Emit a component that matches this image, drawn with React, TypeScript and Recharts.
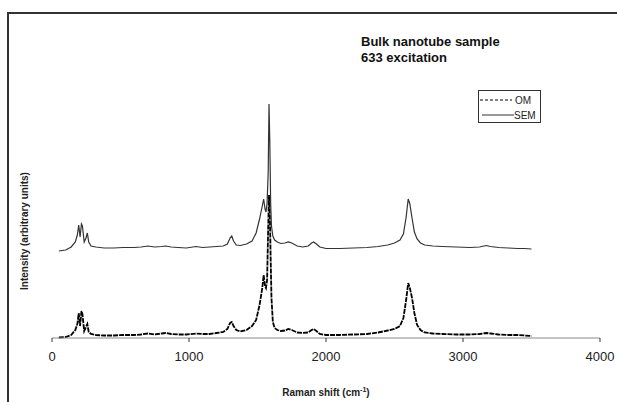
import { Line, LineChart, XAxis, YAxis } from 'recharts'

// Raman shift (cm-1) sampled along both spectra
const ramanShift = [
  50, 100, 140, 170, 185, 195, 205, 215, 222, 235, 248, 258, 268, 285, 320, 380, 450, 520, 600, 650,
  700, 750, 800, 830, 870, 920, 980, 1050, 1100, 1150, 1200, 1250, 1280, 1300, 1312, 1325, 1345, 1375,
  1420, 1460, 1490, 1515, 1535, 1545, 1555, 1562, 1570, 1578, 1584, 1590, 1596, 1602, 1612, 1625, 1645,
  1670, 1700, 1725, 1750, 1790, 1830, 1870, 1895, 1910, 1930, 1955, 2000, 2100, 2200, 2300, 2380, 2450,
  2500, 2540, 2565, 2585, 2600, 2612, 2628, 2645, 2665, 2690, 2720, 2780, 2850, 2950, 3050, 3120, 3170,
  3200, 3260, 3330, 3400, 3450, 3500
]

// SEM spectrum (offset upwards)
const semIntensity = [
  87, 88, 91, 96, 103, 113, 101, 114, 112, 96, 100, 105, 96, 92, 91, 90, 90, 90.5, 90.5, 91,
  92, 91, 91.5, 92, 91, 90.5, 90, 91.5, 90.5, 91, 91.5, 92, 94, 100, 102, 97, 93, 92.5,
  94, 97, 105, 119, 132, 139, 129, 126, 135, 165, 234, 195, 135, 112, 102, 98, 96,
  94.5, 95, 96, 95, 92, 91, 92, 95, 96, 94, 91, 89.5, 89.5, 90, 90.5, 91.5, 93,
  95, 98, 104, 121, 139, 134, 120, 106, 99, 95, 93, 92, 91.5, 91, 90.5, 91, 92.5,
  91.5, 90.5, 90, 89.5, 89.5, 89
]

// OM spectrum
const omIntensity = [
  0.5, 1, 3, 8, 14, 25, 12, 27, 24, 7, 11, 14, 6, 4, 3, 2.5, 2.5, 3, 3, 3.5,
  4.5, 3.5, 4.5, 5, 4, 3.5, 3.5, 4.5, 4, 4, 5, 6, 9, 15, 16, 12, 8, 6.5,
  8, 12, 18, 33, 50, 63, 52, 50, 58, 110, 143, 125, 80, 40, 16, 10, 8,
  7, 7.5, 9, 8, 5.5, 5, 5.5, 8, 9, 7, 4, 3, 3, 3.5, 4, 5.5, 7.5,
  9, 12, 20, 38, 55, 50, 40, 25, 13, 8, 5.5, 4.5, 4, 3.5, 3.5, 4, 5,
  4.5, 3.5, 3, 3, 2.5, 2
]

const xTicks = [0, 1000, 2000, 3000, 4000]

const data = ramanShift.map((shift, i) => ({
  shift,
  om: omIntensity[i],
  sem: semIntensity[i]
}))

const font = '"Liberation Sans", Arial, sans-serif'

export default function App() {
  return (
    <div
      style={{
        position: 'absolute',
        left: 0,
        top: 0,
        width: 617,
        height: 402,
        background: '#fff',
        overflow: 'hidden',
        fontFamily: font
      }}
    >
      <div
        style={{
          position: 'absolute',
          left: 7,
          top: 12,
          width: 640,
          height: 420,
          borderLeft: '2px solid #333',
          borderTop: '2px solid #333'
        }}
      />
      <LineChart width={617} height={402} data={data} margin={{ top: 38, right: 17, bottom: 24, left: 8 }}>
        <XAxis
          dataKey="shift"
          type="number"
          domain={[0, 4000]}
          ticks={xTicks}
          height={40}
          tickSize={4}
          tickMargin={10}
          stroke="#888"
          tickLine={{ stroke: '#333' }}
          tick={{ fill: '#222', fontSize: 13, fontFamily: font }}
          label={{
            content: () => (
              <text x={326} y={396} textAnchor="middle" fontSize={10} fontWeight="bold" fill="#222" fontFamily={font}>
                Raman shift (cm
                <tspan dy={-4} fontSize={7}>-1</tspan>
                <tspan dy={4}>)</tspan>
              </text>
            )
          }}
        />
        <YAxis
          type="number"
          domain={[0, 300]}
          width={44}
          tick={false}
          tickLine={false}
          axisLine={false}
          label={{
            content: () => (
              <text
                x={24}
                y={231}
                transform="rotate(-90 24 231)"
                textAnchor="middle"
                dominantBaseline="central"
                fontSize={10}
                fontWeight="bold"
                fill="#222"
                fontFamily={font}
              >
                Intensity (arbitrary units)
              </text>
            )
          }}
        />
        <Line
          dataKey="om"
          name="OM"
          type="linear"
          stroke="#000"
          strokeWidth={1.8}
          strokeDasharray="5 1"
          dot={false}
          isAnimationActive={false}
        />
        <Line
          dataKey="sem"
          name="SEM"
          type="linear"
          stroke="#333"
          strokeWidth={1.2}
          dot={false}
          isAnimationActive={false}
        />
      </LineChart>
      <div
        style={{
          position: 'absolute',
          left: 361,
          top: 34,
          fontSize: 13,
          fontWeight: 'bold',
          lineHeight: '16px',
          color: '#111'
        }}
      >
        <div>Bulk nanotube sample</div>
        <div>633 excitation</div>
      </div>
      <div
        style={{
          position: 'absolute',
          left: 478,
          top: 90,
          width: 61,
          height: 31,
          border: '1px solid #333',
          fontSize: 10,
          color: '#222'
        }}
      >
        <svg width={61} height={31} style={{ position: 'absolute', left: 0, top: 0 }}>
          <line x1={1} y1={9} x2={33} y2={9} stroke="#000" strokeWidth={1} strokeDasharray="3 2" />
          <line x1={3} y1={24} x2={35} y2={24} stroke="#333" strokeWidth={1} />
          <text x={36} y={13} fontSize={10} fill="#222" fontFamily={font}>OM</text>
          <text x={35} y={27.5} fontSize={10} fill="#222" fontFamily={font}>SEM</text>
        </svg>
      </div>
    </div>
  )
}
